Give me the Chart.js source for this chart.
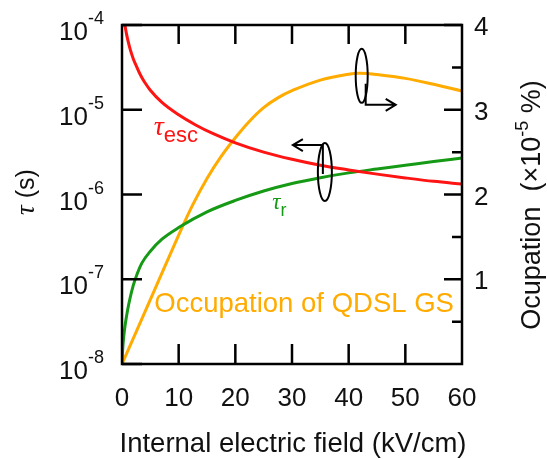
<!DOCTYPE html>
<html>
<head>
<meta charset="utf-8">
<script src="https://cdn.jsdelivr.net/npm/chart.js@4.4.0/dist/chart.umd.min.js"></script>
<style>
  html, body { margin: 0; padding: 0; background: #ffffff; }
  #c { display: block; }
</style>
</head>
<body>
<canvas id="c" width="547" height="459"></canvas>
<script>
// Escape time τesc (s) versus internal field (kV/cm)
const fieldEsc = [0.5, 0.75, 1, 1.5, 2, 2.5, 3, 3.5, 4, 5, 7, 10, 13, 16, 20, 25, 30, 35, 40, 45, 50, 55, 60];
const tauEsc = [1.0e-4, 8.13e-5, 6.76e-5, 5.01e-5, 3.98e-5, 3.31e-5, 2.79e-5, 2.40e-5, 2.11e-5, 1.70e-5,
                1.23e-5, 8.71e-6, 6.61e-6, 5.25e-6, 4.07e-6, 3.16e-6, 2.60e-6, 2.21e-6, 1.95e-6,
                1.74e-6, 1.57e-6, 1.43e-6, 1.33e-6];

// Recombination time τr (s)
const fieldR = [0, 0.1, 0.3, 0.6, 1, 1.4, 2, 2.7, 3.5, 5, 7, 10, 15, 20, 25, 30, 35, 40, 45, 50, 55, 60];
const tauR = [1.0e-8, 1.41e-8, 2.09e-8, 3.02e-8, 4.37e-8, 5.89e-8, 8.51e-8, 1.17e-7, 1.55e-7, 2.14e-7,
              2.95e-7, 4.07e-7, 6.24e-7, 8.51e-7, 1.10e-6, 1.35e-6, 1.58e-6, 1.80e-6, 2.00e-6,
              2.21e-6, 2.45e-6, 2.69e-6];

// Occupation of the QDSL ground state (×10^-5 %)
const fieldOcc = [0, 5, 10, 12.5, 15, 17.5, 20, 22.5, 25, 27.5, 30, 35, 40, 42, 45, 50, 55, 60];
const occupation = [0, 0.76, 1.52, 1.88, 2.19, 2.45, 2.67, 2.865, 3.025, 3.14, 3.225,
                    3.35, 3.42, 3.43, 3.415, 3.37, 3.30, 3.22];

// Axis ticks
const xTickValues = [0, 10, 20, 30, 40, 50, 60];
const tauTickExponents = [-4, -5, -6, -7, -8];
const occTickValues = [1, 2, 3, 4];
const occMinorTicks = [0.5, 1.5, 2.5, 3.5];

const SANS = '"Liberation Sans", Arial, Helvetica, sans-serif';
const SERIF_IT = 'italic 27px "Liberation Serif", "Times New Roman", serif';
const RED = '#ff1414';
const GREEN = '#169a16';
const ORANGE = '#ffab00';

const toPoints = (xs, ys) => xs.map((x, i) => ({ x: x, y: ys[i] }));

// Draw text pieces in sequence: [{t, font, dy}], starting at x (left aligned)
function drawRuns(ctx, runs, x, y) {
  let cx = x;
  runs.forEach(r => {
    ctx.font = r.font;
    ctx.fillText(r.t, cx, y + (r.dy || 0));
    cx += ctx.measureText(r.t).width;
  });
  return cx;
}
function runsWidth(ctx, runs) {
  let w = 0;
  runs.forEach(r => { ctx.font = r.font; w += ctx.measureText(r.t).width; });
  return w;
}

const frameDecor = {
  id: 'frameDecor',
  afterDraw(chart) {
    const { ctx, chartArea: a, scales } = chart;
    const sx = scales.x, sl = scales.yTau, sr = scales.yOcc;
    ctx.save();

    // frame and inward ticks
    ctx.strokeStyle = '#000';
    ctx.lineWidth = 2.5;
    ctx.lineCap = 'butt';
    ctx.strokeRect(a.left, a.top, a.right - a.left, a.bottom - a.top);
    ctx.beginPath();
    xTickValues.forEach(v => {
      if (v <= sx.min || v >= sx.max) return;
      const px = sx.getPixelForValue(v);
      ctx.moveTo(px, a.bottom); ctx.lineTo(px, a.bottom - 20);
      ctx.moveTo(px, a.top); ctx.lineTo(px, a.top + 19);
    });
    tauTickExponents.forEach(e => {
      const py = sl.getPixelForValue(Math.pow(10, e));
      ctx.moveTo(a.left, py); ctx.lineTo(a.left + 20, py);
    });
    occTickValues.forEach(v => {
      const py = sr.getPixelForValue(v);
      ctx.moveTo(a.right, py); ctx.lineTo(a.right - 18, py);
    });
    occMinorTicks.forEach(v => {
      const py = sr.getPixelForValue(v);
      ctx.moveTo(a.right, py); ctx.lineTo(a.right - 10, py);
    });
    ctx.stroke();

    ctx.fillStyle = '#111';
    // x tick labels
    ctx.font = '26px ' + SANS;
    ctx.textAlign = 'center';
    ctx.textBaseline = 'alphabetic';
    xTickValues.forEach(v => {
      ctx.fillText(String(v), sx.getPixelForValue(v), a.bottom + 42);
    });

    // left tick labels: 10^n
    tauTickExponents.forEach(e => {
      const py = sl.getPixelForValue(Math.pow(10, e));
      ctx.font = '26px ' + SANS;
      ctx.textAlign = 'right';
      ctx.fillText('10', a.left - 34, py + 15);
      ctx.font = '18px ' + SANS;
      ctx.textAlign = 'left';
      ctx.fillText(String(e), a.left - 34, py - 1);
    });

    // right tick labels
    ctx.font = '26px ' + SANS;
    ctx.textAlign = 'left';
    occTickValues.forEach(v => {
      ctx.fillText(String(v), a.right + 12, sr.getPixelForValue(v) + 10);
    });

    // x axis title
    ctx.font = '27.5px ' + SANS;
    ctx.textAlign = 'center';
    ctx.fillText('Internal electric field (kV/cm)', (a.left + a.right) / 2 + 1, a.bottom + 88);

    // left axis title
    ctx.save();
    ctx.translate(34, 192);
    ctx.rotate(-Math.PI / 2);
    ctx.textAlign = 'left';
    const lt = [{ t: 'τ', font: SERIF_IT }, { t: ' (s)', font: '25px ' + SANS }];
    drawRuns(ctx, lt, -runsWidth(ctx, lt) / 2, 0);
    ctx.restore();

    // right axis title
    ctx.save();
    ctx.translate(540, 205);
    ctx.rotate(-Math.PI / 2);
    ctx.textAlign = 'left';
    const rt = [
      { t: 'Ocupation  (×10', font: '27px ' + SANS },
      { t: '-5', font: '18px ' + SANS, dy: -12 },
      { t: ' %)', font: '27px ' + SANS }
    ];
    drawRuns(ctx, rt, -runsWidth(ctx, rt) / 2, 0);
    ctx.restore();

    // curve labels
    ctx.textAlign = 'left';
    ctx.fillStyle = RED;
    drawRuns(ctx, [
      { t: 'τ', font: 'italic 28px "Liberation Serif", serif' },
      { t: 'esc', font: '22px ' + SANS, dy: 7 }
    ], sx.getPixelForValue(5.6), sl.getPixelForValue(Math.pow(10, -5.30)));

    ctx.fillStyle = GREEN;
    drawRuns(ctx, [
      { t: 'τ', font: 'italic 23px "Liberation Serif", serif' },
      { t: 'r', font: '18px ' + SANS, dy: 7 }
    ], sx.getPixelForValue(26.5), sl.getPixelForValue(Math.pow(10, -6.17)));

    ctx.fillStyle = ORANGE;
    ctx.font = '27.5px ' + SANS;
    ctx.fillText('Occupation of QDSL GS', sx.getPixelForValue(5.7), sr.getPixelForValue(0.61));

    // rotation markers pointing to each curve's axis
    ctx.strokeStyle = '#000';
    ctx.lineWidth = 2;
    // marker on the occupation curve, arrow to the right axis
    let cx = sx.getPixelForValue(42.3), cy = sr.getPixelForValue(3.40);
    ctx.beginPath();
    ctx.ellipse(cx, cy, 6, 27, 0, 0, Math.PI * 2);
    ctx.stroke();
    ctx.beginPath();
    ctx.moveTo(cx + 4, cy + 8); ctx.lineTo(cx + 4, cy + 29); ctx.lineTo(cx + 34, cy + 29);
    ctx.moveTo(cx + 24, cy + 23); ctx.lineTo(cx + 34, cy + 29); ctx.lineTo(cx + 24, cy + 35);
    ctx.stroke();
    // marker on the τr / τesc curves, arrow to the left axis
    cx = sx.getPixelForValue(35.8); cy = sl.getPixelForValue(Math.pow(10, -5.735));
    ctx.beginPath();
    ctx.ellipse(cx, cy, 7, 29, 0, 0, Math.PI * 2);
    ctx.stroke();
    ctx.beginPath();
    ctx.moveTo(cx - 2, cy + 2); ctx.lineTo(cx - 2, cy - 27); ctx.lineTo(cx - 32, cy - 27);
    ctx.moveTo(cx - 22, cy - 33); ctx.lineTo(cx - 32, cy - 27); ctx.lineTo(cx - 22, cy - 21);
    ctx.stroke();

    ctx.restore();
  }
};

new Chart(document.getElementById('c'), {
  type: 'line',
  data: {
    datasets: [
      {
        label: 'τesc', data: toPoints(fieldEsc, tauEsc), yAxisID: 'yTau',
        borderColor: RED, borderWidth: 3, pointRadius: 0, cubicInterpolationMode: 'monotone'
      },
      {
        label: 'τr', data: toPoints(fieldR, tauR), yAxisID: 'yTau',
        borderColor: GREEN, borderWidth: 3, pointRadius: 0, cubicInterpolationMode: 'monotone'
      },
      {
        label: 'Occupation of QDSL GS', data: toPoints(fieldOcc, occupation), yAxisID: 'yOcc',
        borderColor: ORANGE, borderWidth: 3, pointRadius: 0, tension: 0.4
      }
    ]
  },
  options: {
    responsive: false,
    animation: false,
    devicePixelRatio: 1,
    layout: { padding: { left: 122, right: 85, top: 25, bottom: 95 } },
    plugins: { legend: { display: false }, tooltip: { enabled: false } },
    scales: {
      x: { type: 'linear', min: 0, max: 60, display: false },
      yTau: { type: 'logarithmic', position: 'left', min: 1e-8, max: 1e-4, display: false },
      yOcc: { type: 'linear', position: 'right', min: 0, max: 4, display: false }
    }
  },
  plugins: [frameDecor]
});
</script>
</body>
</html>
